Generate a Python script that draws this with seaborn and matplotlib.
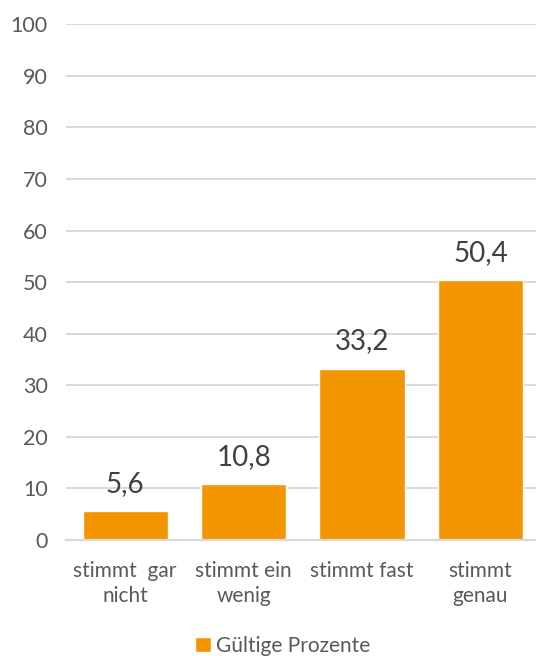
import matplotlib
matplotlib.use("Agg")
import matplotlib.pyplot as plt
import seaborn as sns
import pandas as pd

categories = ["stimmt  gar\nnicht", "stimmt ein\nwenig", "stimmt fast", "stimmt\ngenau"]
values = [5.6, 10.8, 33.2, 50.4]
value_labels = ["5,6", "10,8", "33,2", "50,4"]
series_name = "Gültige Prozente"
yticks = [0, 10, 20, 30, 40, 50, 60, 70, 80, 90, 100]

sns.set_theme(style="white")
plt.rcParams['font.family'] = ['Lato', 'DejaVu Sans']

df = pd.DataFrame({"cat": categories, "val": values, "series": [series_name]*4})

fig = plt.figure(figsize=(5.36, 6.56), dpi=100)
ax = fig.add_axes([0.123, 0.177, 0.884, 0.786])
sns.barplot(data=df, x="cat", y="val", hue="series", palette=["#F39500"],
            width=0.72, saturation=1, ax=ax, legend=True)

txt = "#595959"
ax.set_ylim(0, 100)
ax.set_yticks(yticks)
ax.set_yticklabels([str(t) for t in yticks], fontsize=15.5, color=txt)
ax.tick_params(axis='x', labelsize=15, colors=txt, length=0, pad=15)
for t in ax.get_xticklabels():
    t.set_linespacing(1.35)
ax.tick_params(axis='y', length=0, pad=13)
ax.set_xlabel("")
ax.set_ylabel("")
ax.yaxis.grid(True, color="#D9D9D9", linewidth=1.4)
ax.set_axisbelow(True)
for s in ["top", "right", "left"]:
    ax.spines[s].set_visible(False)
ax.spines["bottom"].set_color("#D9D9D9")
ax.spines["bottom"].set_linewidth(1.6)

for p, lab in zip(ax.patches, value_labels):
    ax.annotate(lab, (p.get_x() + p.get_width()/2, p.get_height()),
                xytext=(0, 14), textcoords="offset points",
                ha="center", va="baseline", fontsize=20, color="#404040")

handles, labels = ax.get_legend_handles_labels()
ax.get_legend().remove()
fig.legend(handles, labels, loc="lower center", bbox_to_anchor=(0.527, -0.028),
           frameon=False, fontsize=15, labelcolor=txt, handlelength=0.75,
           handleheight=0.75, handletextpad=0.25)

fig.savefig("out.png", dpi=100)
